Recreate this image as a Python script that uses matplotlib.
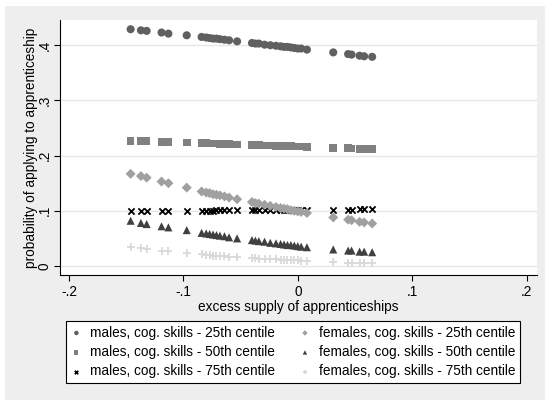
import matplotlib.pyplot as plt
from matplotlib.patches import Rectangle

plt.rcParams['font.family'] = ['Liberation Sans', 'DejaVu Sans']

# excess supply of apprenticeships (shared x for every series)
excess_supply = [-0.146, -0.137, -0.132, -0.119, -0.113, -0.097, -0.084, -0.080, -0.077,
                 -0.074, -0.071, -0.068, -0.064, -0.060, -0.053, -0.040, -0.037, -0.034,
                 -0.029, -0.024, -0.019, -0.015, -0.012, -0.009, -0.006, -0.003, 0.000,
                 0.003, 0.008, 0.031, 0.044, 0.047, 0.054, 0.058, 0.065]

males_25 = [0.429, 0.427, 0.426, 0.423, 0.421, 0.418, 0.415, 0.414, 0.413,
            0.412, 0.412, 0.411, 0.410, 0.409, 0.407, 0.404, 0.403, 0.403,
            0.401, 0.400, 0.399, 0.398, 0.397, 0.397, 0.396, 0.395, 0.394,
            0.394, 0.392, 0.387, 0.384, 0.383, 0.381, 0.380, 0.379]
males_50 = [0.2270, 0.2266, 0.2262, 0.2252, 0.2248, 0.2236, 0.2227, 0.2224, 0.2222,
            0.2219, 0.2217, 0.2215, 0.2212, 0.2209, 0.2204, 0.2194, 0.2192, 0.2190,
            0.2186, 0.2183, 0.2179, 0.2176, 0.2174, 0.2172, 0.2169, 0.2167, 0.2165,
            0.2163, 0.2159, 0.2142, 0.2133, 0.2130, 0.2125, 0.2122, 0.2117]
males_75 = [0.0995, 0.0997, 0.0997, 0.0999, 0.1000, 0.1002, 0.1004, 0.1005, 0.1005,
            0.1005, 0.1006, 0.1006, 0.1007, 0.1007, 0.1008, 0.1010, 0.1011, 0.1011,
            0.1012, 0.1013, 0.1013, 0.1014, 0.1014, 0.1015, 0.1015, 0.1016, 0.1016,
            0.1016, 0.1017, 0.1020, 0.1022, 0.1023, 0.1024, 0.1024, 0.1025]
females_25 = [0.167, 0.163, 0.160, 0.153, 0.150, 0.142, 0.135, 0.133, 0.132,
              0.130, 0.129, 0.128, 0.126, 0.124, 0.121, 0.116, 0.114, 0.113,
              0.111, 0.109, 0.107, 0.105, 0.104, 0.103, 0.101, 0.100, 0.099,
              0.098, 0.096, 0.088, 0.084, 0.083, 0.080, 0.079, 0.077]
females_50 = [0.082, 0.078, 0.076, 0.072, 0.070, 0.065, 0.060, 0.059, 0.058,
              0.057, 0.056, 0.055, 0.054, 0.052, 0.050, 0.047, 0.046, 0.045,
              0.044, 0.042, 0.041, 0.040, 0.039, 0.038, 0.038, 0.037, 0.036,
              0.035, 0.034, 0.030, 0.028, 0.028, 0.026, 0.026, 0.025]
females_75 = [0.034, 0.032, 0.031, 0.028, 0.027, 0.024, 0.021, 0.020, 0.020,
              0.019, 0.019, 0.018, 0.018, 0.017, 0.016, 0.014, 0.014, 0.013,
              0.013, 0.012, 0.012, 0.011, 0.011, 0.011, 0.010, 0.010, 0.010,
              0.009, 0.009, 0.007, 0.006, 0.006, 0.006, 0.005, 0.005]

labels = ['males, cog. skills - 25th centile', 'males, cog. skills - 50th centile',
          'males, cog. skills - 75th centile', 'females, cog. skills - 25th centile',
          'females, cog. skills - 50th centile', 'females, cog. skills - 75th centile']
xticks = [-0.2, -0.1, 0, 0.1, 0.2]
xticklabels = ['-.2', '-.1', '0', '.1', '.2']
yticks = [0, 0.1, 0.2, 0.3, 0.4]
yticklabels = ['0', '.1', '.2', '.3', '.4']

fig = plt.figure(figsize=(5.45, 4.0), dpi=100)
fig.patch.set_facecolor('white')
# grey graph region (Stata style)
fig.patches.append(Rectangle((5 / 545, 0), 1, 394 / 400, transform=fig.transFigure,
                             facecolor='#eeeeee', edgecolor='none', zorder=-10))

ax = fig.add_axes([60 / 545, 125 / 400, 477 / 545, 255 / 400])
ax.set_facecolor('white')

fs = 9.8
series = [
    (males_25, 'o', '#606060', 34),
    (males_50, 's', '#808080', 30),
    (males_75, 'x', '#000000', 20),
    (females_25, 'D', '#a0a0a0', 26),
    (females_50, '^', '#404040', 34),
    (females_75, '+', '#d9d9d9', 34),
]
handles = []
for (vals, marker, color, size), lab in zip(series, labels):
    if marker in ('x', '+'):
        h = ax.scatter(excess_supply, vals, marker=marker, s=size, color=color,
                       linewidths=1.3, label=lab, zorder=3)
    else:
        h = ax.scatter(excess_supply, vals, marker=marker, s=size, color=color,
                       edgecolors='none', label=lab, zorder=3)
    handles.append(h)

ax.set_xlim(-0.2077, 0.209)
ax.set_ylim(-0.0163, 0.4457)
ax.set_xticks(xticks)
ax.set_xticklabels(xticklabels, fontsize=fs)
ax.set_yticks(yticks)
ax.set_yticklabels(yticklabels, fontsize=fs, rotation=90, va='center')
ax.tick_params(direction='out', length=4.5, width=0.8, pad=2.5, colors='black')
ax.tick_params(axis='y', pad=1.5)
ax.grid(axis='y', color='#e6e6e6', linewidth=1)
ax.set_axisbelow(True)
for side in ['top', 'right']:
    ax.spines[side].set_visible(False)
for side in ['left', 'bottom']:
    ax.spines[side].set_linewidth(0.8)

ax.set_xlabel('excess supply of apprenticeships', fontsize=fs, labelpad=1)
ax.set_ylabel('probability of applying to apprenticeship', fontsize=fs, labelpad=0)

leg = fig.legend(handles=handles, loc='center', bbox_to_anchor=(293 / 545, 48 / 400),
                 ncol=2, fontsize=fs, frameon=True, fancybox=False, framealpha=1,
                 edgecolor='black', markerscale=0.55, handlelength=0.8,
                 handletextpad=0.6, columnspacing=1.8, labelspacing=0.4,
                 borderpad=0.35)
leg.get_frame().set_linewidth(0.8)

plt.savefig('out.png', dpi=100, facecolor=fig.get_facecolor())
